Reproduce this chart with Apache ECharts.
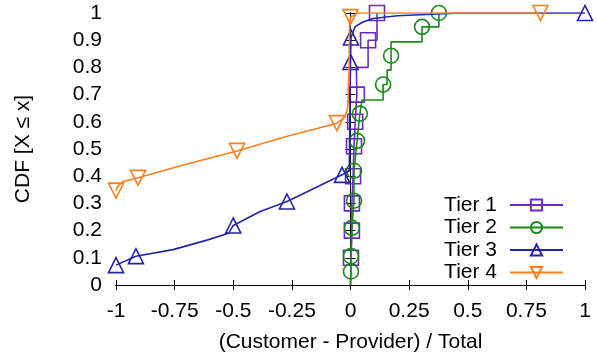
<!DOCTYPE html>
<html>
<head>
<meta charset="utf-8">
<script src="https://cdn.jsdelivr.net/npm/echarts@6/dist/echarts.min.js"></script>
<style>
html,body{margin:0;padding:0;background:#fff;}
#c{width:597px;height:358px;}
</style>
</head>
<body>
<div id="c"></div>
<script>
// ---- data ----
const xTickLabels = ['-1','-0.75','-0.5','-0.25','0','0.25','0.5','0.75','1'];
const yTickLabels = ['0','0.1','0.2','0.3','0.4','0.5','0.6','0.7','0.8','0.9','1'];
const seriesNames = ['Tier 1','Tier 2','Tier 3','Tier 4'];

// Tier 1: path vertices, and 1 where a marker is drawn
const tier1X = [0, 0.002, 0.006, 0.006, 0.011, 0.015, 0.02, 0.027, 0.025, 0.075, 0.075, 0.113, 0.113];
const tier1Y = [0, 0.10, 0.20, 0.30, 0.40, 0.51, 0.60, 0.70, 0.80, 0.80, 0.90, 0.90, 1.0];
const tier1M = [0, 1, 1, 1, 1, 1, 1, 1, 0, 0, 1, 0, 1];

// Tier 2
const tier2X = [0, 0.002, 0.002, 0.006, 0.015, 0.015, 0.028, 0.04, 0.049, 0.139, 0.139, 0.156, 0.156, 0.173, 0.173, 0.173, 0.305, 0.305, 0.377, 0.377];
const tier2Y = [0, 0.05, 0.106, 0.21, 0.31, 0.42, 0.53, 0.63, 0.68, 0.68, 0.737, 0.737, 0.79, 0.79, 0.843, 0.894, 0.894, 0.949, 0.949, 1.0];
const tier2M = [0, 1, 1, 1, 1, 1, 1, 1, 0, 0, 1, 0, 0, 0, 1, 0, 0, 1, 0, 1];

// Tier 3
const tier3X = [-1, -0.915, -0.757, -0.612, -0.52, -0.5, -0.385, -0.271, -0.143, -0.036, -0.005, -0.003, 0.0, 0.002, 0.02, 0.053, 0.096, 0.2, 0.47, 1.0];
const tier3Y = [0.073, 0.106, 0.13, 0.165, 0.19, 0.219, 0.27, 0.307, 0.36, 0.405, 0.42, 0.6, 0.82, 0.91, 0.95, 0.967, 0.98, 0.99, 1.0, 1.0];
const tier3M = [1, 1, 0, 0, 0, 1, 0, 1, 0, 1, 0, 0, 1, 1, 0, 0, 0, 0, 0, 1];

// Tier 4
const tier4X = [-1, -0.99, -0.97, -0.94, -0.906, -0.697, -0.484, -0.27, -0.058, -0.025, -0.012, -0.006, -0.004, 0.0, 0.03, 0.81];
const tier4Y = [0.347, 0.365, 0.38, 0.387, 0.394, 0.445, 0.493, 0.547, 0.595, 0.615, 0.65, 0.8, 0.95, 0.985, 1.0, 1.0];
const tier4M = [1, 0, 0, 0, 1, 0, 1, 0, 1, 0, 0, 0, 0, 1, 0, 1];

// ---- styling ----
const colors = ['#6a2bc2', '#1a8a1a', '#2424a8', '#ff7f1e'];
const symbols = ['rect', 'circle', 'triangle', 'triangle'];
const rotates = [0, 0, 0, 180];
const symSizes = [15, 15, 15, 15];
const FONT = 'Liberation Sans, Arial, sans-serif';

function build(xs, ys, ms) {
  return xs.map((x, i) => ms[i] ? {value: [x, ys[i]]} : {value: [x, ys[i]], symbol: 'none'});
}
const all = [[tier1X, tier1Y, tier1M], [tier2X, tier2Y, tier2M], [tier3X, tier3Y, tier3M], [tier4X, tier4Y, tier4M]];

const series = all.map((d, k) => ({
  name: seriesNames[k],
  type: 'line',
  data: build(d[0], d[1], d[2]),
  symbol: symbols[k],
  symbolSize: symSizes[k],
  symbolRotate: rotates[k],
  showSymbol: true,
  showAllSymbol: true,
  animation: false,
  lineStyle: {color: colors[k], width: 1.6},
  itemStyle: {color: 'rgba(255,255,255,0)', borderColor: colors[k], borderWidth: 1.6},
  emphasis: {disabled: true},
  z: 2 + k
}));

const chart = echarts.init(document.getElementById('c'), null, {renderer: 'canvas'});
const axisLineStyle = {lineStyle: {color: '#000', width: 1}};
chart.setOption({
  animation: false,
  backgroundColor: '#fff',
  grid: {left: 116, right: 12, top: 13, bottom: 71, containLabel: false},
  legend: {
    orient: 'vertical',
    right: 33,
    top: 194,
    align: 'right',
    itemWidth: 53,
    itemHeight: 14,
    itemGap: 0.5,
    padding: 0,
    selectedMode: false,
    data: seriesNames,
    textStyle: {fontFamily: FONT, fontSize: 21, lineHeight: 22, color: '#000', padding: [0, 8, 0, 0]}
  },
  xAxis: [{
    type: 'value', min: -1, max: 1, interval: 0.25,
    name: '(Customer - Provider) / Total', nameLocation: 'middle', nameGap: 47,
    nameTextStyle: {fontFamily: FONT, fontSize: 21, color: '#000'},
    axisLine: axisLineStyle,
    axisTick: {inside: true, length: 5, lineStyle: {color: '#000'}},
    axisLabel: {fontFamily: FONT, fontSize: 21, color: '#000', margin: 16,
      formatter: (v) => xTickLabels[Math.round((v + 1) / 0.25)]},
    splitLine: {show: false}
  }, {
    type: 'value', min: -1, max: 1, interval: 0.25, position: 'top',
    axisLine: axisLineStyle,
    axisTick: {inside: true, length: 5, lineStyle: {color: '#000'}},
    axisLabel: {show: false}, splitLine: {show: false}
  }],
  yAxis: [{
    type: 'value', min: 0, max: 1, interval: 0.1,
    name: 'CDF [X ≤ x]', nameLocation: 'middle', nameGap: 82, nameRotate: 90,
    nameTextStyle: {fontFamily: FONT, fontSize: 21, color: '#000'},
    axisLine: {show: true, lineStyle: {color: '#000', width: 1}},
    axisTick: {show: true, inside: true, length: 5, lineStyle: {color: '#000'}},
    axisLabel: {fontFamily: FONT, fontSize: 21, color: '#000', margin: 14,
      formatter: (v) => yTickLabels[Math.round(v * 10)]},
    splitLine: {show: false}
  }, {
    type: 'value', min: 0, max: 1, interval: 0.1, position: 'right',
    axisLine: {show: true, lineStyle: {color: '#000', width: 1}},
    axisTick: {show: true, inside: true, length: 5, lineStyle: {color: '#000'}},
    axisLabel: {show: false}, splitLine: {show: false}
  }],
  series: series
});
</script>
</body>
</html>
